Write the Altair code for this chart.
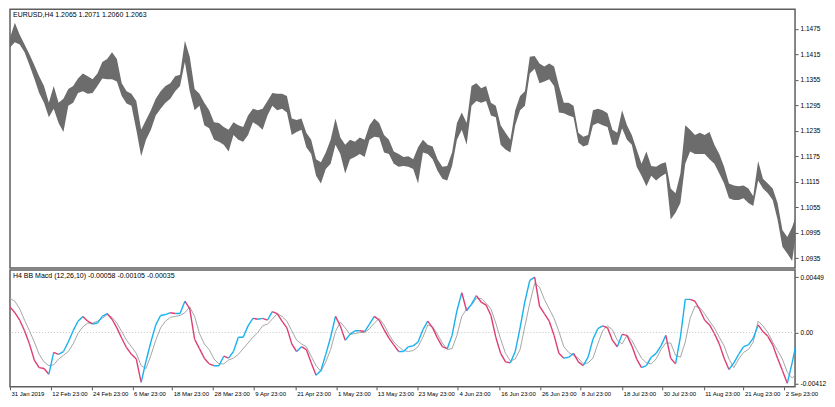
import json
import pandas as pd
import altair as alt

header_main = "EURUSD,H4  1.2065 1.2071 1.2060 1.2063"
header_macd = "H4 BB Macd (12,26,10) -0.00058 -0.00105 -0.00035"

price_ticks = [1.0935, 1.0995, 1.1055, 1.1115, 1.1175, 1.1235, 1.1295, 1.1355, 1.1415, 1.1475]
macd_ticks = [0.00449, 0.0, -0.00412]
macd_tick_labels = ["0.00449", "0.00", "-0.00412"]

date_positions = [0, 8.4, 16.8, 25.2, 33.4, 41.8, 50.2, 58.8, 67.2, 75.4, 83.8, 92.2,
                  100.8, 109.2, 117.4, 126, 134.2, 142.8, 151, 159.4]
date_labels = ["31 Jan 2019", "12 Feb 23:00", "24 Feb 23:00", "6 Mar 23:00", "18 Mar 23:00",
               "28 Mar 23:00", "9 Apr 23:00", "21 Apr 23:00", "1 May 23:00", "13 May 23:00",
               "23 May 23:00", "4 Jun 23:00", "16 Jun 23:00", "26 Jun 23:00", "8 Jul 23:00",
               "18 Jul 23:00", "30 Jul 23:00", "11 Aug 23:00", "21 Aug 23:00", "2 Sep 23:00"]

price_high = [
    1.1454, 1.1489, 1.1461, 1.1438, 1.1415, 1.1390, 1.1363, 1.1340, 1.1301, 1.1340,
    1.1301, 1.1310, 1.1333, 1.1340, 1.1358, 1.1370, 1.1363, 1.1356, 1.1370, 1.1397,
    1.1404, 1.1420, 1.1404, 1.1347, 1.1328, 1.1322, 1.1305, 1.1237, 1.1260, 1.1283,
    1.1310, 1.1328, 1.1340, 1.1347, 1.1363, 1.1367, 1.1447, 1.1409, 1.1333, 1.1322,
    1.1301, 1.1283, 1.1255, 1.1253, 1.1244, 1.1237, 1.1255, 1.1248, 1.1244, 1.1271,
    1.1287, 1.1283, 1.1287, 1.1305, 1.1324, 1.1322, 1.1322, 1.1317, 1.1264, 1.1260,
    1.1264, 1.1230, 1.1214, 1.1168, 1.1161, 1.1184, 1.1214, 1.1264, 1.1219, 1.1202,
    1.1214, 1.1209, 1.1219, 1.1214, 1.1248, 1.1264, 1.1253, 1.1225, 1.1214, 1.1186,
    1.1180, 1.1173, 1.1175, 1.1168, 1.1196, 1.1214, 1.1202, 1.1198, 1.1168, 1.1150,
    1.1152, 1.1184, 1.1253, 1.1278, 1.1253, 1.1340, 1.1347, 1.1335, 1.1340, 1.1301,
    1.1294, 1.1248, 1.1230, 1.1214, 1.1283, 1.1317, 1.1328, 1.1409, 1.1411, 1.1393,
    1.1386, 1.1393, 1.1386, 1.1340, 1.1301, 1.1301, 1.1294, 1.1230, 1.1221, 1.1225,
    1.1283, 1.1287, 1.1283, 1.1276, 1.1237, 1.1230, 1.1283, 1.1248, 1.1225, 1.1191,
    1.1157, 1.1186, 1.1152, 1.1150, 1.1157, 1.1161, 1.1099, 1.1088, 1.1134, 1.1248,
    1.1237, 1.1225, 1.1230, 1.1225, 1.1232, 1.1202, 1.1180, 1.1150, 1.1111, 1.1106,
    1.1104, 1.1106, 1.1099, 1.1081, 1.1164, 1.1122, 1.1111, 1.1099, 1.1065, 1.1001,
    1.0985, 1.1008, 1.1042,
]
price_low = [
    1.1431, 1.1443, 1.1438, 1.1420, 1.1390, 1.1358, 1.1324, 1.1301, 1.1267, 1.1287,
    1.1253, 1.1232, 1.1294, 1.1301, 1.1324, 1.1328, 1.1322, 1.1324, 1.1340, 1.1358,
    1.1356, 1.1356, 1.1351, 1.1317, 1.1299, 1.1294, 1.1237, 1.1175, 1.1214, 1.1237,
    1.1271, 1.1287, 1.1301, 1.1310, 1.1328, 1.1340, 1.1397, 1.1328, 1.1283, 1.1294,
    1.1248, 1.1241, 1.1214, 1.1209, 1.1202, 1.1186, 1.1225, 1.1214, 1.1209, 1.1225,
    1.1255, 1.1248, 1.1237, 1.1271, 1.1294, 1.1283, 1.1287, 1.1278, 1.1225, 1.1232,
    1.1237, 1.1196, 1.1180, 1.1129, 1.1111, 1.1145, 1.1157, 1.1202, 1.1180, 1.1134,
    1.1168, 1.1173, 1.1180, 1.1173, 1.1214, 1.1221, 1.1219, 1.1184, 1.1180, 1.1157,
    1.1150, 1.1152, 1.1150, 1.1145, 1.1111, 1.1184, 1.1180, 1.1168, 1.1141, 1.1122,
    1.1118, 1.1152, 1.1214, 1.1237, 1.1202, 1.1294, 1.1305, 1.1301, 1.1305, 1.1271,
    1.1267, 1.1202, 1.1191, 1.1184, 1.1248, 1.1283, 1.1294, 1.1370, 1.1381, 1.1347,
    1.1351, 1.1356, 1.1340, 1.1278, 1.1276, 1.1271, 1.1267, 1.1207, 1.1198, 1.1202,
    1.1248, 1.1253, 1.1248, 1.1244, 1.1202, 1.1202, 1.1241, 1.1214, 1.1202, 1.1150,
    1.1129, 1.1104, 1.1129, 1.1118, 1.1127, 1.1134, 1.1026, 1.1042, 1.1065, 1.1157,
    1.1186, 1.1180, 1.1180, 1.1180, 1.1168, 1.1157, 1.1134, 1.1111, 1.1076, 1.1072,
    1.1072, 1.1076, 1.1065, 1.1058, 1.1118, 1.1099, 1.1088, 1.1072, 1.1026, 1.0962,
    1.0946, 1.0928, 1.1008,
]

macd_main = [
    0.00208, 0.00161, 0.00100, 0.00015, -0.00092, -0.00223, -0.00285, -0.00292, -0.00338, -0.00161,
    -0.00177, -0.00154, -0.00077, 0.00015, 0.00092, 0.00131, 0.00092, 0.00069, 0.00077, 0.00131,
    0.00154, 0.00108, 0.00038, -0.00046, -0.00123, -0.00177, -0.00215, -0.00405, -0.00231, -0.00077,
    0.00062, 0.00138, 0.00146, 0.00161, 0.00154, 0.00154, 0.00254, 0.00192, -0.00054, -0.00131,
    -0.00208, -0.00254, -0.00269, -0.00269, -0.00192, -0.00208, -0.00154, -0.00038, -0.00038, 0.00054,
    0.00115, 0.00108, 0.00115, 0.00100, 0.00169, 0.00154, 0.00092, 0.00038, -0.00092, -0.00154,
    -0.00115, -0.00138, -0.00246, -0.00346, -0.00308, -0.00177, -0.00038, 0.00131, 0.00054, -0.00062,
    -0.00015, 0.00015, 0.00015, 0.00008, 0.00069, 0.00131, 0.00100, 0.00023, -0.00046, -0.00100,
    -0.00154, -0.00154, -0.00115, -0.00108, -0.00077, 0.00023, 0.00092, 0.00038, -0.00046, -0.00115,
    -0.00131, -0.00023, 0.00177, 0.00323, 0.00177, 0.00231, 0.00300, 0.00246, 0.00223, 0.00138,
    -0.00038, -0.00169, -0.00238, -0.00246, -0.00154, 0.00038, 0.00254, 0.00423, 0.00449, 0.00215,
    0.00154, 0.00092, -0.00023, -0.00169, -0.00208, -0.00200, -0.00169, -0.00238, -0.00269, -0.00200,
    -0.00054, 0.00031, 0.00054, 0.00038, -0.00062, -0.00115, -0.00015, -0.00023, -0.00108, -0.00215,
    -0.00285, -0.00269, -0.00200, -0.00169, -0.00108, -0.00023, -0.00208, -0.00254, -0.00038, 0.00269,
    0.00269, 0.00254, 0.00185, 0.00100, 0.00062, -0.00008, -0.00092, -0.00208, -0.00300, -0.00246,
    -0.00177, -0.00115, -0.00100, -0.00046, 0.00062, 0.00008, -0.00031, -0.00100, -0.00208, -0.00308,
    -0.00412, -0.00246, -0.00058,
]
macd_signal = [
    0.00277, 0.00254, 0.00192, 0.00100, 0.00015, -0.00077, -0.00177, -0.00238, -0.00269, -0.00261,
    -0.00215, -0.00185, -0.00154, -0.00092, -0.00008, 0.00046, 0.00077, 0.00077, 0.00092, 0.00115,
    0.00146, 0.00123, 0.00077, 0.00008, -0.00062, -0.00115, -0.00169, -0.00269, -0.00292, -0.00185,
    -0.00062, 0.00038, 0.00092, 0.00123, 0.00131, 0.00138, 0.00161, 0.00208, 0.00131, -0.00008,
    -0.00092, -0.00138, -0.00215, -0.00254, -0.00254, -0.00223, -0.00208, -0.00177, -0.00131, -0.00085,
    -0.00038, 0.00000, 0.00054, 0.00069, 0.00108, 0.00154, 0.00131, 0.00092, 0.00015, -0.00062,
    -0.00092, -0.00115, -0.00192, -0.00269, -0.00315, -0.00238, -0.00138, 0.00008, 0.00085, 0.00038,
    -0.00015, -0.00008, 0.00000, 0.00000, 0.00031, 0.00077, 0.00115, 0.00062, -0.00015, -0.00077,
    -0.00115, -0.00146, -0.00154, -0.00146, -0.00115, -0.00038, 0.00062, 0.00046, -0.00015, -0.00085,
    -0.00138, -0.00131, -0.00023, 0.00131, 0.00192, 0.00223, 0.00277, 0.00277, 0.00238, 0.00192,
    0.00077, -0.00054, -0.00169, -0.00231, -0.00215, -0.00138, 0.00054, 0.00238, 0.00400, 0.00369,
    0.00269, 0.00192, 0.00115, 0.00008, -0.00115, -0.00161, -0.00185, -0.00208, -0.00254, -0.00246,
    -0.00208, -0.00092, 0.00015, 0.00054, 0.00023, -0.00062, -0.00092, -0.00023, -0.00062, -0.00138,
    -0.00208, -0.00246, -0.00254, -0.00215, -0.00138, -0.00085, -0.00085, -0.00185, -0.00200, -0.00077,
    0.00115, 0.00215, 0.00200, 0.00154, 0.00092, 0.00038, -0.00038, -0.00108, -0.00215, -0.00285,
    -0.00215, -0.00161, -0.00138, -0.00077, 0.00092, 0.00054, 0.00000, -0.00077, -0.00146, -0.00215,
    -0.00323, -0.00369, -0.00331,
]

FONT = "Liberation Sans"
FS_HEAD = 7
FS_AXIS = 6.5
FS_DATE = 6
BLUE = "#17b2ef"
RED = "#de3d72"
PRICE_COL = "#6c6c6c"
W, H1, H2 = 786, 259, 117

n = len(price_high)
idx = list(range(n))
price_df = pd.DataFrame({"i": idx, "high": price_high, "low": price_low})
macd_df = pd.DataFrame({"i": idx, "signal": macd_signal})
seg_df = pd.DataFrame({"i": idx[:-1], "i2": idx[1:], "v": macd_main[:-1], "v2": macd_main[1:]})
seg_df["dir"] = ["up" if b >= a else "down" for a, b in zip(macd_main[:-1], macd_main[1:])]

xscale = alt.Scale(domain=[0, 161.6], nice=False, zero=False)
pscale = alt.Scale(domain=[1.0912, 1.1521], nice=False, zero=False)
mscale = alt.Scale(domain=[-0.00440, 0.00508], nice=False, zero=False)

price_axis = alt.Axis(orient="right", values=price_ticks, format=".4f", tickSize=3,
                      labelPadding=2, domain=False, grid=False, title=None,
                      labelFont=FONT, labelFontSize=FS_AXIS, labelColor="#000000",
                      tickColor="#555555")

area = alt.Chart(price_df).mark_area(color=PRICE_COL, clip=True, interpolate="linear").encode(
    x=alt.X("i:Q", scale=xscale, axis=None),
    y=alt.Y("high:Q", scale=pscale, axis=price_axis),
    y2="low:Q",
)
top_text = alt.Chart(pd.DataFrame({"t": [header_main]})).mark_text(
    align="left", baseline="middle", font=FONT, fontSize=FS_HEAD, color="#000000"
).encode(text="t:N", x=alt.value(3), y=alt.value(6))

main = alt.layer(area, top_text).properties(width=W, height=H1)

label_expr = f"{json.dumps(date_labels)}[indexof({json.dumps(date_positions)}, datum.value)]"
macd_label_expr = f"{json.dumps(macd_tick_labels)}[indexof({json.dumps(macd_ticks)}, datum.value)]"

x_axis = alt.Axis(orient="bottom", values=date_positions, labelExpr=label_expr, labelAlign="left",
                  labelOffset=1, labelPadding=1, tickSize=3, domain=False, grid=False, title=None,
                  labelFont=FONT, labelFontSize=FS_DATE, labelColor="#000000", tickColor="#555555",
                  labelFlush=False, labelOverlap=False, labelBound=False)
m_axis = alt.Axis(orient="right", values=macd_ticks, labelExpr=macd_label_expr, tickSize=3,
                  labelPadding=2, domain=False, grid=False, title=None, labelFont=FONT,
                  labelFontSize=FS_AXIS, labelColor="#000000", tickColor="#555555")

zero = alt.Chart(pd.DataFrame({"z": [0.0]})).mark_rule(
    color="#c4c4c4", strokeDash=[1, 2], strokeWidth=1
).encode(y=alt.Y("z:Q", scale=mscale, axis=m_axis))

signal = alt.Chart(macd_df).mark_line(color="#a6a6a6", strokeWidth=1, clip=True).encode(
    x=alt.X("i:Q", scale=xscale, axis=x_axis),
    y=alt.Y("signal:Q", scale=mscale),
)
segs = alt.Chart(seg_df).mark_rule(strokeWidth=1.4, clip=True).encode(
    x=alt.X("i:Q", scale=xscale),
    x2="i2:Q",
    y=alt.Y("v:Q", scale=mscale),
    y2="v2:Q",
    color=alt.Color("dir:N", scale=alt.Scale(domain=["up", "down"], range=[BLUE, RED]), legend=None),
)
macd_text = alt.Chart(pd.DataFrame({"t": [header_macd]})).mark_text(
    align="left", baseline="middle", font=FONT, fontSize=FS_HEAD, color="#000000"
).encode(text="t:N", x=alt.value(3), y=alt.value(6))

macd = alt.layer(zero, signal, segs, macd_text).properties(width=W, height=H2)

chart = alt.vconcat(main, macd, spacing=0).properties(
    padding={"left": 0, "top": 0, "right": 0, "bottom": 0},
    background="#ffffff",
).configure_view(stroke="#5e5e5e", strokeWidth=1.5)

chart.save("out.html", embed_options={"renderer": "svg", "actions": False})
